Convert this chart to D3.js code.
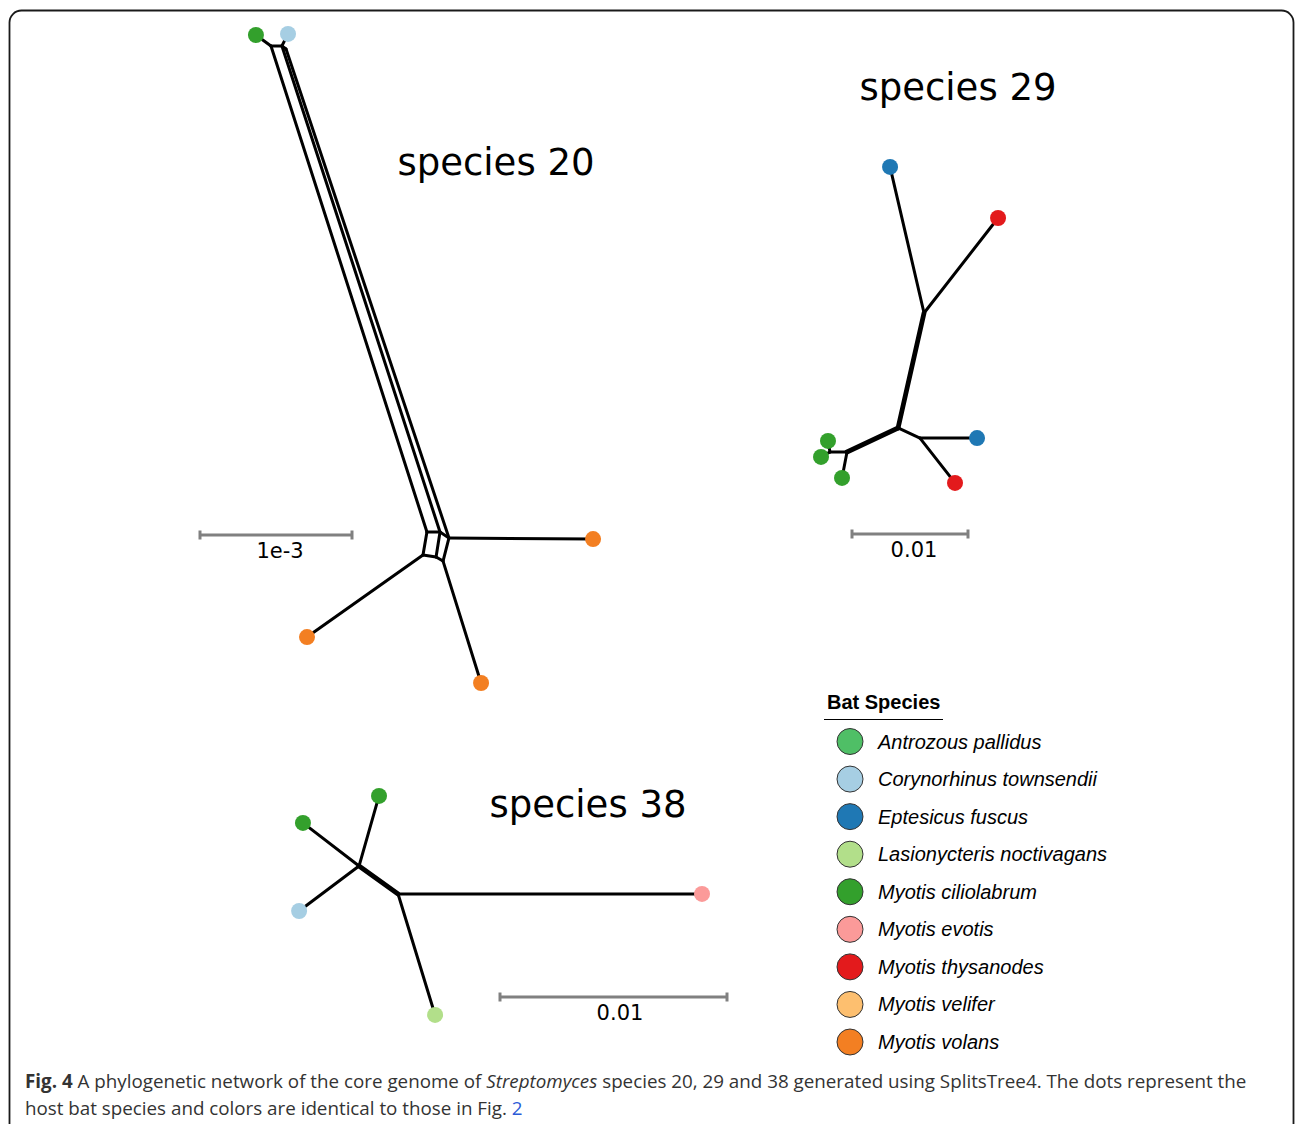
<!DOCTYPE html>
<html>
<head>
<meta charset="utf-8">
<script src="https://cdn.jsdelivr.net/npm/d3@7"></script>
<style>
  html, body { margin: 0; padding: 0; background: #fff; }
  svg { display: block; }
</style>
</head>
<body>
<svg id="chart" width="1295" height="1124"></svg>
<script>
// ---------------- DATA ----------------
// Host bat species (legend) and colours
const hostSpecies = ["Antrozous pallidus","Corynorhinus townsendii","Eptesicus fuscus","Lasionycteris noctivagans","Myotis ciliolabrum","Myotis evotis","Myotis thysanodes","Myotis velifer","Myotis volans"];
const hostColors  = ["#4fbf66","#a6cee3","#1f78b4","#b2df8a","#33a02c","#fb9a99","#e31a1c","#fdbf6f","#f37f22"];

// Species 20 network: node coordinates in units of the scale bar (1e-3 substitutions/site)
const s20NodeIds = ["g1","c1","T1","T2","T3","A","B","C","D","E","F","o1","o2","o3"];
const s20NodeX   = [0.368,0.579,0.467,0.539,0.566,1.493,1.579,1.638,1.467,1.553,1.599,2.586,0.704,1.849];
const s20NodeY   = [0.000,-0.007,0.072,0.072,0.092,3.270,3.270,3.309,3.421,3.434,3.461,3.316,3.961,4.263];
const s20Edges   = [["g1","T1"],["c1","T2"],["T1","T2"],["T2","T3"],["T1","A"],["T2","B"],["T3","C"],
                    ["A","B"],["B","C"],["A","D"],["B","E"],["C","F"],["D","E"],["E","F"],
                    ["C","o1"],["D","o2"],["F","o3"]];
const s20Thick   = [];
const s20Tips    = ["g1","c1","o1","o2","o3"];
const s20TipHost = ["Myotis ciliolabrum","Corynorhinus townsendii","Myotis volans","Myotis volans","Myotis volans"];

// Species 29 network: units of the scale bar (0.01)
const s29NodeIds = ["b1","r1","J1","J2","J3","b2","r2","J4","J5","gA","gB","gC"];
const s29NodeX   = [0.328,1.259,0.621,0.397,0.586,1.078,0.888,-0.043,-0.190,-0.207,-0.267,-0.086];
const s29NodeY   = [0.060,0.500,1.319,2.310,2.397,2.397,2.784,2.517,2.517,2.422,2.560,2.741];
const s29Edges   = [["b1","J1"],["r1","J1"],["J1","J2"],["J2","J3"],["J3","b2"],["J3","r2"],
                    ["J2","J4"],["J4","J5"],["J5","gA"],["J5","gB"],["J4","gC"]];
const s29Thick   = [["J1","J2"],["J2","J4"]];
const s29Tips    = ["b1","r1","b2","r2","gA","gB","gC"];
const s29TipHost = ["Eptesicus fuscus","Myotis thysanodes","Eptesicus fuscus","Myotis thysanodes","Myotis ciliolabrum","Myotis ciliolabrum","Myotis ciliolabrum"];

// Species 38 network: units of the scale bar (0.01)
const s38NodeIds = ["g1","g2","lb","K1","K2","pk","lg"];
const s38NodeX   = [-0.533,-0.868,-0.885,-0.621,-0.449,0.890,-0.286];
const s38NodeY   = [0.026,0.145,0.533,0.335,0.458,0.458,0.991];
const s38Edges   = [["K1","g1"],["K1","g2"],["K1","lb"],["K1","K2"],["K2","pk"],["K2","lg"]];
const s38Thick   = [["K1","K2"]];
const s38Tips    = ["g1","g2","lb","pk","lg"];
const s38TipHost = ["Myotis ciliolabrum","Myotis ciliolabrum","Corynorhinus townsendii","Myotis evotis","Lasionycteris noctivagans"];

const panelTitles = ["species 20","species 29","species 38"];
const scaleLabels = ["1e-3","0.01","0.01"];

// ---------------- DRAW ----------------
const svg = d3.select("#chart");
const color = d3.scaleOrdinal().domain(hostSpecies).range(hostColors);

// frame (rounded, open at bottom)
svg.append("rect").attr("x", 9.5).attr("y", 10.5).attr("width", 1284).attr("height", 1160)
  .attr("rx", 12).attr("ry", 12).attr("fill", "none").attr("stroke", "#1a1a1a").attr("stroke-width", 1.8);

function drawPanel(cfg) {
  const x = d3.scaleLinear().domain([0, 1]).range([cfg.ox, cfg.ox + cfg.ppu]);
  const y = d3.scaleLinear().domain([0, 1]).range([cfg.oy, cfg.oy + cfg.ppu]);
  const nodes = new Map(cfg.ids.map((id, i) => [id, {x: cfg.xs[i], y: cfg.ys[i]}]));
  const thickSet = new Set(cfg.thick.map(e => e.join("-")));
  const g = svg.append("g");
  g.selectAll("line.edge").data(cfg.edges).join("line").attr("class", "edge")
    .attr("x1", d => x(nodes.get(d[0]).x)).attr("y1", d => y(nodes.get(d[0]).y))
    .attr("x2", d => x(nodes.get(d[1]).x)).attr("y2", d => y(nodes.get(d[1]).y))
    .attr("stroke", "#000").attr("stroke-linecap", "round")
    .attr("stroke-width", d => thickSet.has(d.join("-")) ? 4.8 : 3);
  g.selectAll("circle.tip").data(cfg.tips.map((t, i) => ({id: t, host: cfg.hosts[i]}))).join("circle")
    .attr("class", "tip")
    .attr("cx", d => x(nodes.get(d.id).x)).attr("cy", d => y(nodes.get(d.id).y))
    .attr("r", 8).attr("fill", d => color(d.host));
  // title
  svg.append("text").attr("x", cfg.tx).attr("y", cfg.ty).attr("text-anchor", "middle")
    .attr("font-family", "DejaVu Sans").attr("font-size", 37).attr("fill", "#000").text(cfg.title);
  // scale bar
  const sb = svg.append("g").attr("stroke", "#808080").attr("stroke-width", 3);
  const sx = d3.scaleLinear().domain([0, 1]).range([cfg.sbx, cfg.sbx + cfg.ppu]);
  sb.append("line").attr("x1", sx(0)).attr("x2", sx(1)).attr("y1", cfg.sby).attr("y2", cfg.sby);
  sb.append("line").attr("x1", sx(0)).attr("x2", sx(0)).attr("y1", cfg.sby - 4.5).attr("y2", cfg.sby + 4.5);
  sb.append("line").attr("x1", sx(1)).attr("x2", sx(1)).attr("y1", cfg.sby - 4.5).attr("y2", cfg.sby + 4.5);
  svg.append("text").attr("x", cfg.slx).attr("y", cfg.sby + 23).attr("text-anchor", "middle")
    .attr("font-family", "DejaVu Sans").attr("font-size", 21).attr("fill", "#000").text(cfg.sl);
}

drawPanel({ids: s20NodeIds, xs: s20NodeX, ys: s20NodeY, edges: s20Edges, thick: s20Thick, tips: s20Tips, hosts: s20TipHost,
  ox: 200, oy: 35, ppu: 152, title: panelTitles[0], tx: 496, ty: 175, sbx: 200, sby: 535, sl: scaleLabels[0], slx: 280});
drawPanel({ids: s29NodeIds, xs: s29NodeX, ys: s29NodeY, edges: s29Edges, thick: s29Thick, tips: s29Tips, hosts: s29TipHost,
  ox: 852, oy: 160, ppu: 116, title: panelTitles[1], tx: 958, ty: 100, sbx: 852, sby: 534, sl: scaleLabels[1], slx: 914});
drawPanel({ids: s38NodeIds, xs: s38NodeX, ys: s38NodeY, edges: s38Edges, thick: s38Thick, tips: s38Tips, hosts: s38TipHost,
  ox: 500, oy: 790, ppu: 227, title: panelTitles[2], tx: 588, ty: 817, sbx: 500, sby: 997, sl: scaleLabels[2], slx: 620});

// legend
const lg = svg.append("g");
lg.append("text").attr("x", 827).attr("y", 709).attr("font-family", "Liberation Sans, Arial").attr("font-weight", "bold")
  .attr("font-size", 20).attr("fill", "#000").text("Bat Species");
lg.append("line").attr("x1", 824).attr("x2", 943).attr("y1", 719.5).attr("y2", 719.5).attr("stroke", "#000").attr("stroke-width", 1);
const ly = d3.scalePoint().domain(hostSpecies).range([741.5, 1042]);
const items = lg.selectAll("g.item").data(hostSpecies).join("g").attr("class", "item")
  .attr("transform", d => `translate(0,${ly(d)})`);
items.append("circle").attr("cx", 850).attr("cy", 0).attr("r", 13).attr("fill", d => color(d))
  .attr("stroke", "#333").attr("stroke-width", 1);
items.append("text").attr("x", 878).attr("y", 7).attr("font-family", "Liberation Sans, Arial").attr("font-style", "italic")
  .attr("font-size", 20).attr("fill", "#000").text(d => d);

// caption
const cap = svg.append("g").attr("font-family", "Open Sans").attr("font-size", 18.8).attr("fill", "#333");
const l1 = cap.append("text").attr("x", 25).attr("y", 1088);
l1.append("tspan").attr("font-weight", "bold").text("Fig. 4");
l1.append("tspan").text(" A phylogenetic network of the core genome of ");
l1.append("tspan").attr("font-style", "italic").text("Streptomyces");
l1.append("tspan").text(" species 20, 29 and 38 generated using SplitsTree4. The dots represent the");
const l2 = cap.append("text").attr("x", 25).attr("y", 1115);
l2.append("tspan").text("host bat species and colors are identical to those in Fig. ");
l2.append("tspan").attr("fill", "#2a5bd7").text("2");
</script>
</body>
</html>
